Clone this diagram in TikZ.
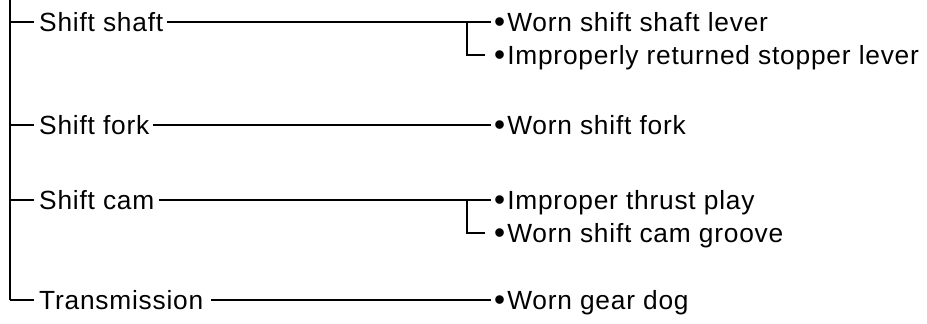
\documentclass[tikz,border=0pt]{standalone}
\usepackage{fontspec}
\setmainfont{Liberation Sans}[LetterSpace=3]
\newcommand{\bul}{\raisebox{-1.6pt}{\scalebox{1.2}{\textbullet}}\hspace{2pt}}
\begin{document}
\begin{tikzpicture}[x=1pt,y=-1pt,
  lbl/.style={anchor=west,inner sep=0pt,font=\fontsize{26.3}{30}\selectfont,text height=18.5pt,text depth=0pt},
  ln/.style={line width=1.5pt},
  trunk/.style={line width=2pt}]
\useasboundingbox (0,0) rectangle (927,324);
% left labels
\node[lbl] (s1) at (39,22) {Shift shaft};
\node[lbl] (s2) at (39,125) {Shift fork};
\node[lbl] (s3) at (39,200) {Shift cam};
\node[lbl] (s4) at (39,300) {Transmission};
% right items
\node[lbl] (r1) at (494,22) {\bul Worn shift shaft lever};
\node[lbl] (r2) at (494,55) {\bul Improperly returned stopper lever};
\node[lbl] (r3) at (494,125) {\bul Worn shift fork};
\node[lbl] (r4) at (494,200) {\bul Improper thrust play};
\node[lbl] (r5) at (494,233) {\bul Worn shift cam groove};
\node[lbl] (r6) at (494,300) {\bul Worn gear dog};
% trunk
\coordinate (top) at (10,0);
\coordinate (bot) at (10,300);
\draw[trunk] (top) -- (bot);
\draw[ln] (10,22) -- ([xshift=-5pt]s1.west);
\draw[ln] (10,125) -- ([xshift=-5pt]s2.west);
\draw[ln] (10,200) -- ([xshift=-5pt]s3.west);
\draw[ln] (bot) -- ([xshift=-5pt]s4.west);
% connectors
\draw[ln] ([xshift=4pt]s1.east) -- ([xshift=-3pt]r1.west);
\draw[ln] (467,22) |- ([xshift=-9pt]r2.west);
\draw[ln] ([xshift=4pt]s2.east) -- ([xshift=-3pt]r3.west);
\draw[ln] ([xshift=4pt]s3.east) -- ([xshift=-3pt]r4.west);
\draw[ln] (467,200) |- ([xshift=-9pt]r5.west);
\draw[ln] ([xshift=8pt]s4.east) -- ([xshift=-3pt]r6.west);
\end{tikzpicture}
\end{document}
